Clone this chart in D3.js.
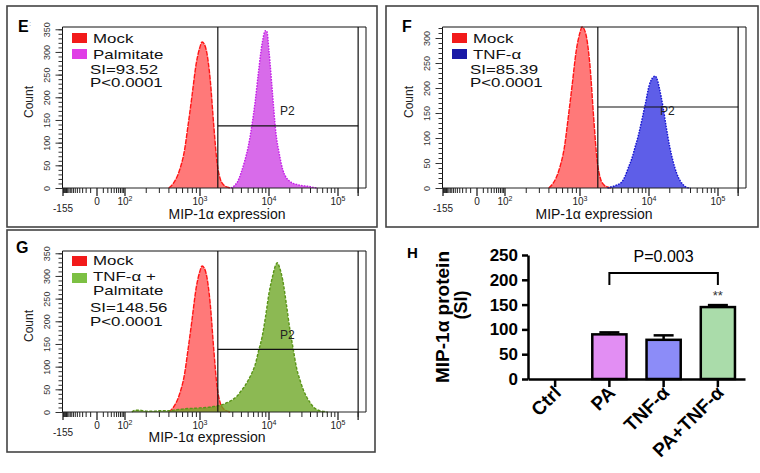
<!DOCTYPE html>
<html>
<head>
<meta charset="utf-8">
<script src="https://cdnjs.cloudflare.com/ajax/libs/d3/7.8.5/d3.min.js"></script>
<style>
  body { margin: 0; background: #fff; }
  svg { font-family: Arial, "Liberation Sans", sans-serif; }
</style>
</head>
<body>
<svg id="fig" width="760" height="473"></svg>
<script>
// ---- histogram readings: log10(MIP-1a expression) and event count ----
const mockLog = [2.60, 2.65, 2.70, 2.75, 2.80, 2.85, 2.90, 2.95, 3.00, 3.03, 3.06, 3.10, 3.15, 3.20, 3.25, 3.30, 3.35, 3.40, 3.45];
const mockCount = [0, 8, 22, 45, 80, 140, 205, 272, 311, 322, 318, 298, 238, 140, 55, 18, 6, 2, 0];

const palmLog = [3.45, 3.50, 3.55, 3.60, 3.65, 3.70, 3.75, 3.80, 3.85, 3.90, 3.95, 3.97, 4.00, 4.05, 4.10, 4.15, 4.20, 4.25, 4.30, 4.35, 4.40, 4.45, 4.50, 4.55, 4.60, 4.65, 4.70];
const palmCount = [0, 5, 15, 35, 60, 91, 135, 190, 258, 318, 347, 345, 302, 210, 122, 75, 40, 23, 15, 10, 8, 6, 5, 4, 3, 1, 0];

const tnfLog = [3.40, 3.45, 3.50, 3.55, 3.60, 3.65, 3.70, 3.75, 3.80, 3.85, 3.90, 3.95, 4.00, 4.05, 4.09, 4.13, 4.15, 4.20, 4.25, 4.30, 4.35, 4.40, 4.45, 4.50, 4.55, 4.60];
const tnfCount = [0, 2, 4, 7, 11, 22, 40, 58, 82, 107, 138, 170, 204, 220, 224, 212, 200, 165, 122, 83, 53, 30, 15, 6, 1, 0];

const comboLog = [2.10, 2.15, 2.20, 2.30, 2.40, 2.50, 2.60, 2.70, 2.80, 2.90, 3.00, 3.10, 3.20, 3.30, 3.40, 3.50, 3.55, 3.60, 3.65, 3.70, 3.75, 3.80, 3.85, 3.90, 3.95, 4.00, 4.05, 4.10, 4.12, 4.15, 4.20, 4.25, 4.30, 4.35, 4.40, 4.45, 4.50, 4.55, 4.60, 4.65, 4.70, 4.75, 4.80, 4.85];
const comboCount = [0, 4, 4, 2, 2, 3, 3, 5, 7, 8, 9, 10, 12, 15, 21, 30, 37, 47, 57, 70, 85, 104, 135, 165, 210, 262, 298, 325, 329, 320, 290, 240, 185, 140, 97, 70, 48, 32, 20, 10, 5, 2, 1, 0];

// flow axis
const xAnchorVals = [-155, 0, 100, 1000, 10000, 100000, 262144];
const xLabelVals = [-155, 0, 100, 1000, 10000, 100000];
const gateLo = 1820, gateHi = 200000;

// ---- panel H bar chart ----
const barCats = ["Ctrl", "PA", "TNF-α", "PA+TNF-α"];
const barVals = [0, 90, 79, 145];
const barErr = [0, 4, 9, 4];
const barTicks = [0, 50, 100, 150, 200, 250];
const barColors = ["#ffffff", "#e28ef3", "#8c8cf8", "#aadcaa"];

const svg = d3.select("#fig");

// biexponential-like x axis: symlog then piecewise linear through the labelled ticks
const sym = d3.scaleSymlog().constant(20).domain([-155, 262144]).range([0, 1]);
const x = d3.scaleLinear().domain(xAnchorVals.map(sym)).range([63, 97, 125, 200, 269, 338, 366]);
const xpos = v => x(sym(v));

const xMinor = [].concat(
  d3.range(-150, 0, 10), d3.range(10, 100, 10),
  d3.range(2, 10).map(k => k * 100), d3.range(2, 10).map(k => k * 1000),
  d3.range(2, 10).map(k => k * 10000), [200000]);

const mock = { log: mockLog, count: mockCount, fill: "rgba(255,45,45,0.64)", stroke: "#ff1515", dash: "5,1" };

const panels = [
  { letter: "E", dx: 0, dy: 0, box: [7, 6, 370, 221], letterAt: [18, 32], yMax: 355, gate: 137,
    sample: { log: palmLog, count: palmCount, fill: "#d86bea", stroke: "#c41ee8", dash: "1.6,1.2" },
    rows: [
      { t: "Mock", y: 42.5, sw: "#f21a1a", sy: 33 },
      { t: "Palmitate", y: 58.5, sw: "#e03ee6", sy: 49 },
      { t: "SI=93.52", y: 74 },
      { t: "P<0.0001", y: 87 }],
    titleX: 227, titleY: 219 },
  { letter: "F", dx: 380, dy: 0, box: [6, 6, 372, 221], letterAt: [22, 32], yMax: 322, gate: 162,
    sample: { log: tnfLog, count: tnfCount, fill: "#5e5ee8", stroke: "#1414d0", dash: "1.6,1.2" },
    rows: [
      { t: "Mock", y: 42.5, sw: "#f21a1a", sy: 33 },
      { t: "TNF-α", y: 58.5, sw: "#1a1aa6", sy: 49 },
      { t: "SI=85.39", y: 74 },
      { t: "P<0.0001", y: 87 }],
    titleX: 214, titleY: 219 },
  { letter: "G", dx: 0, dy: 224, box: [7, 6, 368, 222], letterAt: [16, 29], yMax: 355, gate: 138,
    sample: { log: comboLog, count: comboCount, fill: "rgba(108,165,34,0.78)", stroke: "#5a9418", dash: "3,1.5" },
    rows: [
      { t: "Mock", y: 40.5, sw: "#f21a1a", sy: 32 },
      { t: "TNF-α +", y: 57, sw: "#7cc043", sy: 49 },
      { t: "Palmitate", y: 70.5 },
      { t: "SI=148.56", y: 88 },
      { t: "P<0.0001", y: 102 }],
    titleX: 207, titleY: 218 }
];

function drawFlow(p) {
  const g = svg.append("g").attr("transform", `translate(${p.dx},${p.dy})`);
  const y = d3.scaleLinear().domain([0, p.yMax]).range([188, 27]);

  g.append("rect").attr("x", p.box[0]).attr("y", p.box[1]).attr("width", p.box[2]).attr("height", p.box[3])
    .attr("fill", "none").attr("stroke", "#444").attr("stroke-width", 1.6);

  g.append("text").attr("x", p.letterAt[0]).attr("y", p.letterAt[1]).text(p.letter)
    .attr("font-size", 16).attr("font-weight", "bold");

  // histograms
  const area = d3.area().x(d => xpos(10 ** d[0])).y0(y(0)).y1(d => y(d[1])).curve(d3.curveMonotoneX);
  const line = d3.line().x(d => xpos(10 ** d[0])).y(d => y(d[1])).curve(d3.curveMonotoneX);
  [mock, p.sample].forEach(h => {
    const pts = d3.zip(h.log, h.count);
    g.append("path").datum(pts).attr("d", area).attr("fill", h.fill);
    g.append("path").datum(pts).attr("d", line).attr("fill", "none")
      .attr("stroke", h.stroke).attr("stroke-width", 1.4).attr("stroke-dasharray", h.dash);
  });

  // frame
  g.append("path").attr("d", "M62.5,188V27H366V188").attr("fill", "none").attr("stroke", "#111").attr("stroke-width", 1);

  // gate P2
  const gl = xpos(gateLo), gh = xpos(gateHi);
  const gate = g.append("g").attr("stroke", "#111").attr("stroke-width", 1.2);
  gate.append("line").attr("x1", gl).attr("x2", gl).attr("y1", 27).attr("y2", 188);
  gate.append("line").attr("x1", gh).attr("x2", gh).attr("y1", 27).attr("y2", 188);
  gate.append("line").attr("x1", gl).attr("x2", gh).attr("y1", y(p.gate)).attr("y2", y(p.gate));
  g.append("text").attr("x", 280).attr("y", 115).attr("font-size", 12).attr("fill", "#222").text("P2");

  // y axis
  g.append("g").attr("transform", "translate(62.5,0)")
    .call(d3.axisLeft(y).tickValues(d3.range(0, p.yMax + 1, 10)).tickSize(4).tickFormat(""))
    .call(a => a.select(".domain").remove())
    .selectAll("line").attr("stroke", "#333");
  const ya = g.append("g").attr("transform", "translate(62.5,0)")
    .call(d3.axisLeft(y).tickValues(d3.range(0, p.yMax + 1, 50)).tickSize(7))
    .call(a => a.select(".domain").remove());
  ya.selectAll("line").attr("stroke", "#333");
  ya.selectAll("text").attr("x", 0).attr("dy", "0.35em").attr("text-anchor", "middle")
    .attr("transform", "translate(-16,0) rotate(-90)").attr("font-size", 9).attr("fill", "#333")
    .attr("font-family", "Arial, 'Liberation Sans', sans-serif");
  g.append("text").attr("transform", "translate(33,102) rotate(-90)").attr("text-anchor", "middle")
    .attr("font-size", 12).attr("fill", "#222").text("Count");

  // x axis
  const xa = g.append("g").attr("stroke", "#222");
  xa.append("line").attr("x1", 62).attr("x2", 366).attr("y1", 188).attr("y2", 188);
  xa.selectAll(".mn").data(xMinor).join("line").attr("class", "mn")
    .attr("x1", v => xpos(v)).attr("x2", v => xpos(v)).attr("y1", 188).attr("y2", 193);
  xa.selectAll(".mj").data(xLabelVals.concat([200000])).join("line").attr("class", "mj")
    .attr("x1", v => xpos(v)).attr("x2", v => xpos(v)).attr("y1", 188).attr("y2", 196).attr("stroke-width", 1.3);

  const lab = g.append("g").attr("font-size", 10).attr("fill", "#222").attr("text-anchor", "middle");
  xLabelVals.forEach(v => {
    const t = lab.append("text").attr("x", xpos(v));
    if (v <= 0) {
      t.attr("y", v < 0 ? 212 : 205).text(v);
    } else {
      t.attr("y", 205).text("10");
      t.append("tspan").attr("dy", -4).attr("font-size", 7).text(Math.round(Math.log10(v)));
    }
  });
  g.append("text").attr("x", p.titleX).attr("y", p.titleY).attr("text-anchor", "middle")
    .attr("font-size", 14).attr("fill", "#111").text("MIP-1α expression");

  // legend
  p.rows.forEach(r => {
    if (r.sw) {
      g.append("rect").attr("x", 72).attr("y", r.sy).attr("width", 15).attr("height", 10).attr("fill", r.sw);
    }
    g.append("text").attr("transform", `translate(${r.sw || r.t.startsWith("Palm") ? 93 : 90},${r.y}) scale(1.3,1)`)
      .attr("font-size", 13).attr("fill", "#111").text(r.t);
  });
}

panels.forEach(drawFlow);
svg.append("text").attr("x", 29).attr("y", 26).attr("font-size", 8).attr("fill", "#999").text(":");

// ---- panel H ----
const h = svg.append("g");
const hx = d3.scaleBand().domain(barCats).range([528, 745]).paddingInner(0.37).paddingOuter(0.185);
const hy = d3.scaleLinear().domain([0, 250]).range([379, 255]);

h.append("text").attr("x", 407).attr("y", 258).attr("font-size", 15).attr("font-weight", "bold").text("H");

h.selectAll(".bar").data(barCats).join("rect").attr("class", "bar")
  .attr("x", d => hx(d)).attr("width", hx.bandwidth())
  .attr("y", (d, i) => hy(barVals[i])).attr("height", (d, i) => hy(0) - hy(barVals[i]))
  .attr("fill", (d, i) => barColors[i]).attr("stroke", "#000").attr("stroke-width", 2.5)
  .attr("display", (d, i) => barVals[i] > 0 ? null : "none");

const eb = h.append("g").attr("stroke", "#000").attr("stroke-width", 2.5);
barCats.forEach((c, i) => {
  if (!barErr[i]) return;
  const cx = hx(c) + hx.bandwidth() / 2;
  eb.append("line").attr("x1", cx).attr("x2", cx).attr("y1", hy(barVals[i])).attr("y2", hy(barVals[i] + barErr[i]));
  eb.append("line").attr("x1", cx - 10).attr("x2", cx + 10).attr("y1", hy(barVals[i] + barErr[i])).attr("y2", hy(barVals[i] + barErr[i]));
});

const hya = h.append("g").attr("transform", "translate(528,0)")
  .call(d3.axisLeft(hy).tickValues(barTicks).tickSize(6).tickSizeOuter(0).tickPadding(4));
hya.selectAll("path,line").attr("stroke-width", 2.5);
hya.selectAll("text").attr("font-size", 17).attr("font-weight", "bold")
  .attr("font-family", "Arial, 'Liberation Sans', sans-serif");

const hxa = h.append("g").attr("transform", "translate(0,379)")
  .call(d3.axisBottom(hx).tickSize(8).tickSizeOuter(0));
hxa.selectAll("path,line").attr("stroke-width", 2.5);
hxa.selectAll("text").attr("x", 0).attr("y", 0).attr("dy", 0).attr("text-anchor", "end")
  .attr("transform", "translate(7,15) rotate(-45)").attr("font-size", 19).attr("font-weight", "bold")
  .attr("font-family", "Arial, 'Liberation Sans', sans-serif");

h.append("text").attr("transform", "translate(449,317) rotate(-90)").attr("text-anchor", "middle")
  .attr("font-size", 19).attr("font-weight", "bold").text("MIP-1α protein");
h.append("text").attr("transform", "translate(467,305) rotate(-90)").attr("text-anchor", "middle")
  .attr("font-size", 18).attr("font-weight", "bold").text("(SI)");

// significance bracket
const bx1 = hx("PA") + hx.bandwidth() / 2, bx2 = hx("PA+TNF-α") + hx.bandwidth() / 2;
h.append("path").attr("d", `M${bx1},285V273H${bx2}V285`).attr("fill", "none").attr("stroke", "#000").attr("stroke-width", 2);
h.append("text").attr("x", (bx1 + bx2) / 2).attr("y", 262).attr("text-anchor", "middle").attr("font-size", 16).text("P=0.003");
h.append("text").attr("x", bx2).attr("y", 300).attr("text-anchor", "middle").attr("font-size", 13).attr("fill", "#333").text("**");
</script>
</body>
</html>
